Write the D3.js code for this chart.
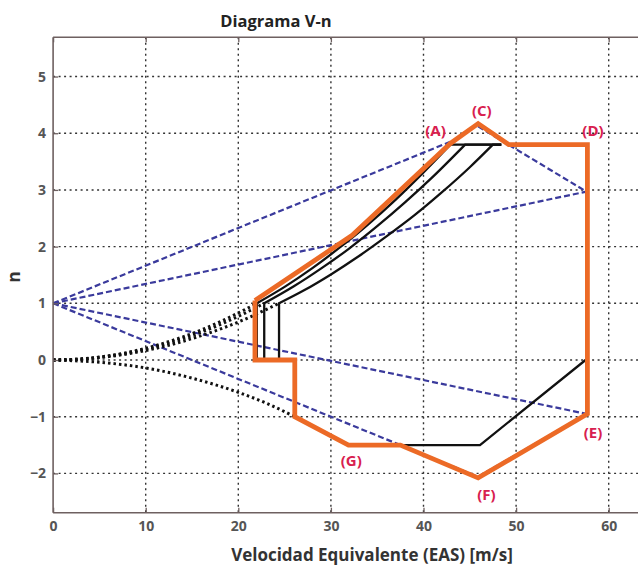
<!DOCTYPE html>
<html>
<head>
<meta charset="utf-8">
<script src="https://cdn.jsdelivr.net/npm/d3@7"></script>
<style>
  html, body { margin: 0; padding: 0; background: #fff; }
  svg { display: block; }
  text { font-family: "Open Sans", "DejaVu Sans", sans-serif; }
</style>
</head>
<body>
<script>
// ---------- data ----------
const xTicks = [0, 10, 20, 30, 40, 50, 60];
const yTicks = [-2, -1, 0, 1, 2, 3, 4, 5];

// envelope (orange)
const envV = [21.8, 21.8, 26.1, 26.1, 31.9, 37.5, 45.9, 57.7, 57.7, 49.2, 45.9, 42.9, 32.3, 21.8];
const envN = [1.05, 0.0, 0.0, -1.0, -1.5, -1.5, -2.08, -0.95, 3.8, 3.8, 4.17, 3.82, 2.2, 1.05];

// stall curves (solid black) : vertical from n=0, curve up to n=3.8, then horizontal
const stall1V = [22.0, 22.0, 25, 28, 31, 34, 37, 40, 42.9, 48.4];
const stall1N = [0.0, 1.0, 1.29, 1.62, 1.99, 2.39, 2.83, 3.31, 3.8, 3.8];
const stall2V = [22.8, 22.8, 26, 29, 32, 35, 38, 41, 44.5, 48.4];
const stall2N = [0.0, 1.0, 1.30, 1.62, 1.97, 2.36, 2.78, 3.23, 3.8, 3.8];
const stall3V = [24.4, 24.4, 27, 30, 33, 36, 39, 42, 45, 47.5, 48.4];
const stall3N = [0.0, 1.0, 1.22, 1.51, 1.83, 2.18, 2.55, 2.96, 3.40, 3.8, 3.8];
// negative maneuver line (solid black)
const negV = [31.9, 46.1, 57.5];
const negN = [-1.5, -1.5, 0.0];

// dotted black curves below stall
const dot1V = [0, 4, 8, 12, 16, 20, 22.0];
const dot1N = [0, 0.033, 0.132, 0.30, 0.53, 0.83, 1.0];
const dot2V = [0, 4, 8, 12, 16, 20, 22.8];
const dot2N = [0, 0.031, 0.123, 0.277, 0.49, 0.77, 1.0];
const dot3V = [0, 4, 8, 12, 16, 20, 24.4];
const dot3N = [0, 0.027, 0.107, 0.24, 0.43, 0.67, 1.0];
const dotNegV = [0, 5, 10, 15, 20, 23, 26.1];
const dotNegN = [0, -0.04, -0.14, -0.32, -0.57, -0.76, -1.0];

// gust lines (blue dashed), each from -> to
const gustV0 = [0, 0, 0, 0, 45.9, 57.6, 45.9];
const gustN0 = [1, 1, 1, 1, 4.12, 2.97, -2.06];
const gustV1 = [42.9, 57.6, 57.6, 45.9, 57.6, 57.6, 57.6];
const gustN1 = [3.85, 2.97, -0.95, -2.06, 2.97, -0.95, -0.95];

// point labels
const ptNames = ["(A)", "(C)", "(D)", "(E)", "(F)", "(G)"];
const ptV = [41.3, 46.3, 58.3, 58.3, 46.8, 32.2];
const ptN = [4.02, 4.38, 4.02, -1.3, -2.4, -1.8];

// ---------- layout ----------
const W = 638, H = 567;
const pL = 53.1, pT = 37.3, pB = 512.7, pR = 640;
const x = d3.scaleLinear().domain([0, 63.38]).range([pL, pR]);
const y = d3.scaleLinear().domain([-2.693, 5.692]).range([pB, pT]);

const svg = d3.select("body").append("svg").attr("width", W).attr("height", H);

const plot = svg.append("g");

// grid
const gridColor = "#333";
plot.selectAll(".gx").data(xTicks.filter(d => d > 0)).enter().append("line")
  .attr("x1", d => x(d)).attr("x2", d => x(d)).attr("y1", pT).attr("y2", pB)
  .attr("stroke", gridColor).attr("stroke-width", 1.4).attr("stroke-dasharray", "2,3.5");
plot.selectAll(".gy").data(yTicks).enter().append("line")
  .attr("x1", pL).attr("x2", pR).attr("y1", d => y(d)).attr("y2", d => y(d))
  .attr("stroke", gridColor).attr("stroke-width", 1.4).attr("stroke-dasharray", "2,3.5");

const line = d3.line().x(d => x(d[0])).y(d => y(d[1]));
const smooth = d3.line().x(d => x(d[0])).y(d => y(d[1])).curve(d3.curveMonotoneX);
const zip = (a, b) => a.map((v, i) => [v, b[i]]);

// gust lines
gustV0.forEach((v, i) => {
  plot.append("path").attr("d", line([[v, gustN0[i]], [gustV1[i], gustN1[i]]]))
    .attr("fill", "none").attr("stroke", "#3a3a9c").attr("stroke-width", 2.2)
    .attr("stroke-dasharray", "6,3");
});

// dotted curves
[[dot1V, dot1N], [dot2V, dot2N], [dot3V, dot3N], [dotNegV, dotNegN]].forEach(([vv, nn]) => {
  plot.append("path").attr("d", smooth(zip(vv, nn)))
    .attr("fill", "none").attr("stroke", "#111").attr("stroke-width", 3)
    .attr("stroke-dasharray", "2.5,3");
});

// stall curves
[[stall1V, stall1N], [stall2V, stall2N], [stall3V, stall3N]].forEach(([vv, nn]) => {
  const pts = zip(vv, nn);
  const last = pts[pts.length - 1];
  plot.append("path")
    .attr("d", line([pts[0], pts[1]]) + smooth(pts.slice(1, pts.length - 1)).replace(/^M/, "L") + "L" + x(last[0]) + "," + y(last[1]))
    .attr("fill", "none").attr("stroke", "#111").attr("stroke-width", 2.3);
});
plot.append("path").attr("d", line(zip(negV, negN)))
  .attr("fill", "none").attr("stroke", "#111").attr("stroke-width", 2.3);

// envelope
plot.append("path").attr("d", line(zip(envV, envN)))
  .attr("fill", "none").attr("stroke", "#ec6a26").attr("stroke-width", 4.8)
  .attr("stroke-linejoin", "miter");

// labels
plot.selectAll(".pt").data(ptNames).enter().append("text")
  .attr("x", (d, i) => x(ptV[i])).attr("y", (d, i) => y(ptN[i]))
  .attr("text-anchor", "middle").attr("dominant-baseline", "middle")
  .attr("font-size", 15).attr("font-weight", "bold").attr("fill", "#d8204f")
  .text(d => d);

// axes frame
const axisColor = "#6e6060";
const gx = svg.append("g").attr("transform", `translate(0,${pB})`)
  .call(d3.axisBottom(x).tickValues(xTicks).tickSizeInner(-5).tickSizeOuter(0).tickPadding(8).tickFormat(d3.format("d")));
const gxt = svg.append("g").attr("transform", `translate(0,${pT})`)
  .call(d3.axisTop(x).tickValues(xTicks).tickSizeInner(-5).tickSizeOuter(0).tickFormat(""));
const gy = svg.append("g").attr("transform", `translate(${pL},0)`)
  .call(d3.axisLeft(y).tickValues(yTicks).tickSizeInner(-5).tickSizeOuter(0).tickPadding(7).tickFormat(d3.format("d")));
[gx, gxt, gy].forEach(g => {
  g.select(".domain").attr("stroke", axisColor).attr("stroke-width", 1.6);
  g.selectAll(".tick line").attr("stroke", axisColor).attr("stroke-width", 1.3);
  g.selectAll(".tick text").attr("fill", "#555").attr("font-size", 14).attr("font-weight", "bold")
    .attr("font-family", "'Open Sans', sans-serif");
});
gx.select(".domain").attr("d", `M${pL},0H${pR}`);
gxt.select(".domain").attr("d", `M${pL},0H${pR}`);
gy.select(".domain").attr("d", `M0,${pT}V${pB}`);

// titles
svg.append("text").attr("x", 276).attr("y", 27).attr("text-anchor", "middle")
  .attr("font-size", 16.5).attr("font-weight", "bold").attr("fill", "#222").text("Diagrama V-n");
svg.append("text").attr("x", 372).attr("y", 561).attr("text-anchor", "middle")
  .attr("font-size", 17).attr("font-weight", "bold").attr("fill", "#333")
  .text("Velocidad Equivalente (EAS) [m/s]");
svg.append("text").attr("transform", "translate(20,277) rotate(-90)").attr("text-anchor", "middle")
  .attr("font-size", 17).attr("font-weight", "bold").attr("fill", "#333").text("n");
</script>
</body>
</html>
